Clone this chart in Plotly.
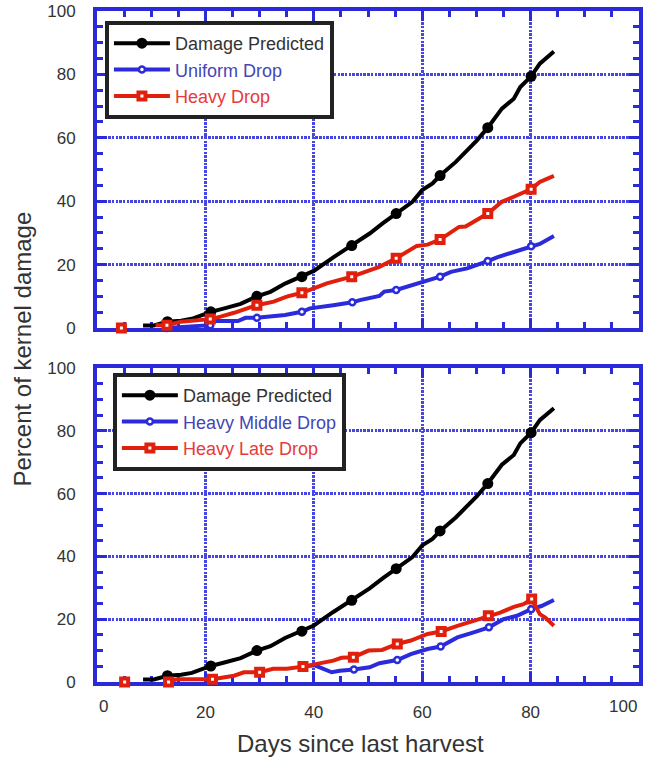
import plotly.graph_objects as go

# ---------------- data ----------------
x_tick_vals = [0, 20, 40, 60, 80, 100]
x_tick_text = ["0", "20", "40", "60", "80", "100"]
y_tick_vals = [0, 20, 40, 60, 80, 100]
y_tick_text = ["0", "20", "40", "60", "80", "100"]

# Damage Predicted (same curve in both panels)
pred_days = [8.5, 10.5, 13.0, 15.5, 17.5, 19.5, 21.0, 23.5, 26.5, 29.5, 32.0, 34.7, 37.8,
             40.0, 43.6, 47.0, 50.3, 52.7, 55.2, 58.2, 60.0, 61.9, 63.3, 66.2, 70.1,
             72.1, 74.7, 76.9, 78.1, 80.1, 81.7, 84.3]
pred_vals = [0.8, 0.8, 2.0, 2.3, 2.9, 4.3, 5.1, 6.2, 7.6, 10.0, 11.4, 14.0, 16.2,
             18.0, 22.3, 26.0, 29.8, 33.0, 36.1, 39.8, 43.5, 45.6, 48.1, 52.4, 59.2,
             63.2, 69.2, 72.3, 76.0, 79.4, 83.4, 87.2]
pred_marker_days = [13.0, 21.0, 29.5, 37.8, 47.0, 55.2, 63.3, 72.1, 80.1]

# Top panel: Uniform Drop
uni_days = [12.9, 17.0, 20.9, 21.5, 26.0, 27.4, 29.5, 34.7, 37.8, 39.3, 41.8, 43.6, 47.1,
            48.5, 52.1, 53.0, 55.2, 57.9, 61.0, 63.3, 65.3, 68.3, 72.1, 73.8, 77.5,
            80.1, 81.7, 84.3]
uni_vals = [0.0, 0.4, 0.9, 2.2, 2.2, 3.2, 3.2, 4.1, 5.1, 6.2, 6.7, 7.2, 8.1,
            8.8, 10.1, 11.5, 12.0, 13.5, 15.1, 16.2, 17.7, 18.8, 21.1, 22.3, 24.3,
            25.8, 26.5, 29.0]
uni_marker_days = [12.9, 20.9, 29.5, 37.8, 47.1, 55.2, 63.3, 72.1, 80.1]

# Top panel: Heavy Drop
heavy_days = [4.5, None, 10.8, 12.9, 15.5, 18.0, 20.9, 22.8, 25.3, 29.5, 32.6, 35.0, 37.8,
              40.0, 42.4, 47.0, 49.7, 52.1, 55.2, 59.0, 61.0, 63.3, 66.8, 68.0, 72.1,
              74.7, 76.9, 80.1, 81.7, 84.3]
heavy_vals = [0.0, None, 0.9, 0.9, 2.0, 2.5, 2.8, 3.6, 4.8, 7.2, 8.3, 9.9, 11.1,
              12.5, 14.1, 16.2, 17.7, 19.3, 22.0, 25.9, 26.3, 27.9, 31.9, 32.0, 36.1,
              39.8, 41.4, 43.8, 46.1, 48.0]
heavy_marker_days = [4.5, 12.9, 20.9, 29.5, 37.8, 47.0, 55.2, 63.3, 72.1, 80.1]

# Bottom panel: Heavy Middle Drop
mid_days = [38.0, 40.2, 43.3, 44.8, 47.4, 50.3, 52.1, 55.4, 57.9, 61.0, 63.4, 66.5, 69.5,
            72.3, 75.0, 77.5, 80.1, 82.0, 84.3]
mid_vals = [4.9, 5.3, 3.1, 3.6, 4.0, 4.7, 6.0, 7.0, 8.9, 10.5, 11.3, 14.2, 15.8,
            17.4, 20.0, 21.1, 23.2, 24.2, 26.1]
mid_marker_days = [47.4, 55.4, 63.4, 72.3, 80.1]

# Bottom panel: Heavy Late Drop
late_days = [5.1, None, 13.2, 14.8, 21.3, 25.3, 27.1, 30.0, 32.5, 35.0, 38.0, 41.3, 43.6,
             45.1, 47.3, 50.1, 52.6, 55.4, 57.9, 61.0, 63.5, 66.5, 69.5, 72.2, 74.4,
             76.9, 78.7, 80.2, 81.7, 82.7, 84.3]
late_vals = [0.0, None, 0.0, 0.9, 0.9, 2.0, 3.1, 3.1, 4.2, 4.2, 4.9, 6.1, 6.8,
             7.7, 7.9, 10.0, 10.2, 12.1, 13.2, 15.3, 16.1, 17.9, 19.5, 21.1, 22.1,
             23.9, 24.8, 26.4, 21.6, 20.5, 17.9]
late_marker_days = [5.1, 13.2, 21.3, 30.0, 38.0, 47.3, 55.4, 63.5, 72.2, 80.2]

# ---------------- style ----------------
FONT = "Liberation Sans"
AXIS_BLUE = "#2a2ad9"
GRID_BLUE = "rgb(70,70,228)"
LINE_BLUE = "#2b2bdc"
RED = "#e0200c"
TXT = "#333333"

STYLES = {
    "black": dict(line=dict(color="black", width=4),
                  marker=dict(symbol="circle", color="black", size=11, opacity=1,
                              line=dict(width=0))),
    "blue": dict(line=dict(color=LINE_BLUE, width=4),
                 marker=dict(symbol="circle", color="white", size=6, opacity=1,
                             line=dict(color=LINE_BLUE, width=2.5))),
    "red": dict(line=dict(color=RED, width=4),
                marker=dict(symbol="square", color="white", size=7, opacity=1,
                            line=dict(color=RED, width=4))),
}


def sizes(days, marks, s):
    return [s if (d is not None and d in marks) else 0 for d in days]


def data_trace(kind, days, vals, marks, xa, ya):
    st = STYLES[kind]
    mk = dict(st["marker"])
    mk["size"] = sizes(days, marks, st["marker"]["size"])
    return go.Scatter(
        x=days, y=vals, mode="lines+markers", showlegend=False, hoverinfo="x+y",
        xaxis=xa, yaxis=ya, cliponaxis=False, connectgaps=False,
        line=st["line"], marker=mk,
    )


def legend_entry(kind, name, color, legend):
    st = STYLES[kind]
    return go.Scatter(
        x=[None], y=[None], mode="lines+markers", legend=legend,
        name=f"<span style='color:{color}'>{name}</span>",
        line=st["line"], marker=st["marker"], xaxis="x", yaxis="y",
    )


fig = go.Figure()
# top panel
fig.add_trace(data_trace("black", pred_days, pred_vals, pred_marker_days, "x", "y"))
fig.add_trace(data_trace("blue", uni_days, uni_vals, uni_marker_days, "x", "y"))
fig.add_trace(data_trace("red", heavy_days, heavy_vals, heavy_marker_days, "x", "y"))
# bottom panel
fig.add_trace(data_trace("black", pred_days, pred_vals, pred_marker_days, "x2", "y2"))
fig.add_trace(data_trace("blue", mid_days, mid_vals, mid_marker_days, "x2", "y2"))
fig.add_trace(data_trace("red", late_days, late_vals, late_marker_days, "x2", "y2"))
# legends
fig.add_trace(legend_entry("black", "Damage Predicted", TXT, "legend"))
fig.add_trace(legend_entry("blue", "Uniform Drop", "#4545b5", "legend"))
fig.add_trace(legend_entry("red", "Heavy Drop", "#e83a3a", "legend"))
fig.add_trace(legend_entry("black", "Damage Predicted", TXT, "legend2"))
fig.add_trace(legend_entry("blue", "Heavy Middle Drop", "#4545b5", "legend2"))
fig.add_trace(legend_entry("red", "Heavy Late Drop", "#e83a3a", "legend2"))

common = dict(
    range=[0, 100], showline=True, linecolor=AXIS_BLUE, linewidth=4, mirror="ticks",
    ticks="inside", ticklen=10, tickwidth=3, tickcolor=AXIS_BLUE,
    showgrid=True, gridcolor=GRID_BLUE, gridwidth=3, griddash="2.5px,1.2px",
    zeroline=False, layer="below traces", fixedrange=True,
    minor=dict(tickmode="linear", tick0=0, dtick=5, ticks="inside", ticklen=6,
               tickwidth=3, tickcolor=AXIS_BLUE, showgrid=False),
    tickfont=dict(family=FONT, size=17, color=TXT),
)

W, H = 645, 758
L, R, T, B = 97, 2, 11, 76
ph = H - T - B
pw = W - L - R
top_dom = [(H - B - 328) / ph, 1]
bot_dom = [0, (H - B - 368) / ph]

legend_common = dict(xanchor="left", yanchor="top", bgcolor="white",
                     bordercolor="#222222", borderwidth=4, itemwidth=56,
                     font=dict(family=FONT, size=18, color=TXT), tracegroupgap=0)

fig.update_layout(
    width=W, height=H,
    margin=dict(l=L, r=R, t=T, b=B),
    paper_bgcolor="white", plot_bgcolor="white",
    showlegend=True,
    xaxis=dict(**common, anchor="y", domain=[0, 1], tickmode="array",
               tickvals=x_tick_vals, showticklabels=False),
    yaxis=dict(**common, anchor="x", domain=top_dom, tickmode="array",
               tickvals=y_tick_vals, ticktext=y_tick_text, ticklabelstandoff=14),
    xaxis2=dict(**common, anchor="y2", domain=[0, 1], tickmode="array",
                tickvals=x_tick_vals[1:-1], ticktext=x_tick_text[1:-1],
                ticklabelstandoff=12),
    yaxis2=dict(**common, anchor="x2", domain=bot_dom, tickmode="array",
                tickvals=y_tick_vals, ticktext=y_tick_text, ticklabelstandoff=14),
    legend=dict(x=(105 - L) / pw, y=1 - (21 - T) / ph, **legend_common),
    legend2=dict(x=(113 - L) / pw, y=1 - (373 - T) / ph, **legend_common),
)

# end tick labels of the bottom x axis sit inward of the frame
fig.add_annotation(x=x_tick_vals[0], y=0, xref="x2", yref="paper", text=x_tick_text[0],
                   xanchor="left", yanchor="top", yshift=-13, showarrow=False,
                   font=dict(family=FONT, size=17, color=TXT))
fig.add_annotation(x=x_tick_vals[-1], y=0, xref="x2", yref="paper", text=x_tick_text[-1],
                   xanchor="right", yanchor="top", yshift=-13, showarrow=False,
                   font=dict(family=FONT, size=17, color=TXT))

# axis titles
fig.add_annotation(x=(362 - L) / pw, y=-(743 - (H - B)) / ph, xref="paper", yref="paper",
                   text="Days since last harvest", xanchor="center", yanchor="middle",
                   showarrow=False, font=dict(family=FONT, size=24, color=TXT))
fig.add_annotation(x=(21 - L) / pw, y=1 - (349 - T) / ph, xref="paper", yref="paper",
                   text="Percent of kernel damage", textangle=-90, xanchor="center",
                   yanchor="middle", showarrow=False,
                   font=dict(family=FONT, size=24, color=TXT))

fig.write_html("out.html")
